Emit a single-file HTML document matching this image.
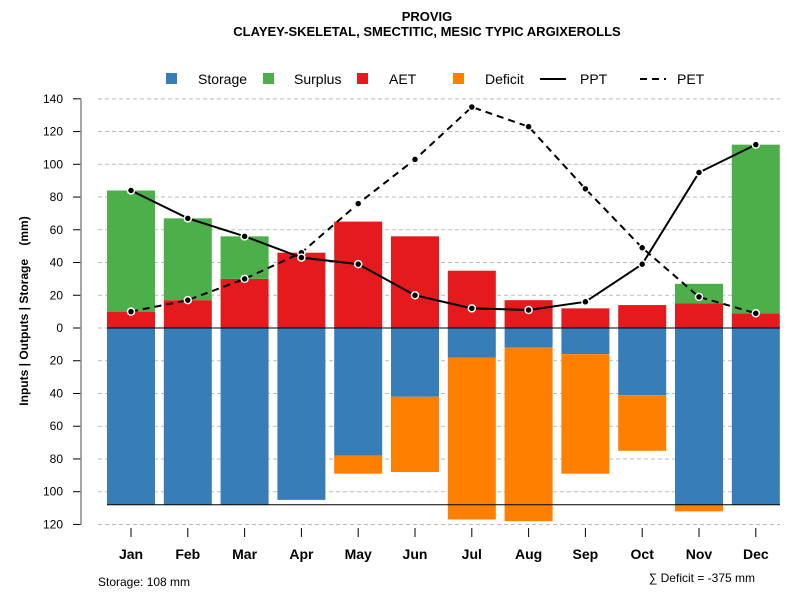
<!DOCTYPE html>
<html><head><meta charset="utf-8">
<style>
body{margin:0;background:#fff;}
svg{display:block;font-family:"Liberation Sans",Arial,sans-serif;}
</style></head>
<body>
<svg id="chart" width="800" height="600" viewBox="0 0 800 600">
<text x="427" y="21" text-anchor="middle" font-size="13" font-weight="bold">PROVIG</text>
<text x="427" y="36" text-anchor="middle" font-size="13" font-weight="bold">CLAYEY-SKELETAL, SMECTITIC, MESIC TYPIC ARGIXEROLLS</text>
<g id="legend" font-size="14">
<g><rect x="166" y="73" width="11" height="11" fill="#377eb8"/><text x="198" y="84">Storage</text></g>
<g><rect x="263" y="73" width="11" height="11" fill="#4daf4a"/><text x="294" y="84">Surplus</text></g>
<g><rect x="357" y="73" width="11" height="11" fill="#e41a1c"/><text x="389" y="84">AET</text></g>
<g><rect x="453" y="73" width="11" height="11" fill="#ff7f00"/><text x="485" y="84">Deficit</text></g>
<g><line x1="540" y1="79" x2="566" y2="79" stroke="#000" stroke-width="2"/><text x="580" y="84">PPT</text></g>
<g><line x1="640" y1="79" x2="666" y2="79" stroke="#000" stroke-width="2" stroke-dasharray="7,5"/><text x="677" y="84">PET</text></g>
</g>
<text transform="translate(28,311) rotate(-90)" text-anchor="middle" font-size="12" font-weight="bold">Inputs | Outputs | Storage&#160;&#160;&#160;&#160;(mm)</text>
<g id="plot"></g>
<text x="98" y="586" font-size="12">Storage: 108 mm</text>
<text x="755" y="582" text-anchor="end" font-size="12">∑ Deficit = -375 mm</text>
</svg>
<script>
const months=["Jan","Feb","Mar","Apr","May","Jun","Jul","Aug","Sep","Oct","Nov","Dec"];
const ppt=[84,67,56,43,39,20,12,11,16,39,95,112];
const pet=[10,17,30,46,76,103,135,123,85,49,19,9];
const aet=[10,17,30,46,65,56,35,17,12,14,15,9];
const surplus=[74,50,26,0,0,0,0,0,0,0,12,103];
const storage=[108,108,108,105,78,42,18,12,16,41,108,108];
const deficit=[0,0,0,0,11,46,99,106,73,34,4,0];
const yTicks=[140,120,100,80,60,40,20,0,20,40,60,80,100,120];
const soilStorage=108;

const NS="http://www.w3.org/2000/svg";
const g=document.getElementById('plot');
const y0=328, k=1.637;
const yUp=v=>y0-v*k, yDown=v=>y0+v*k;
const xc=i=>131+i*56.8;
const bw=48;
function el(t,a){const e=document.createElementNS(NS,t);for(const n in a)e.setAttribute(n,a[n]);g.appendChild(e);return e;}
yTicks.forEach((v,i)=>{
  const y=i<7?yUp(v):yDown(v);
  const gl=el('line',{x1:98,x2:780,y1:y,y2:y,stroke:'#bbb','stroke-dasharray':'4,3'});
  
  
  el('line',{x1:73,x2:81,y1:y,y2:y,stroke:'#000'});
  const t=el('text',{x:63,y:y+4,'text-anchor':'end','font-size':12});
  t.textContent=v;
  
  
});
el('line',{x1:81,x2:81,y1:yUp(140),y2:yDown(120),stroke:'#888','stroke-width':1.5});
months.forEach((m,i)=>{
  const x=xc(i)-bw/2;
  let r=el('rect',{x:x,y:yUp(aet[i]),width:bw,height:aet[i]*k,fill:'#e41a1c'});
  
  
  if(surplus[i]>0){
    r=el('rect',{x:x,y:yUp(aet[i]+surplus[i]),width:bw,height:surplus[i]*k,fill:'#4daf4a'});
    
    
  }
  r=el('rect',{x:x,y:y0,width:bw,height:storage[i]*k,fill:'#377eb8'});
  
  
  if(deficit[i]>0){
    r=el('rect',{x:x,y:yDown(storage[i]),width:bw,height:deficit[i]*k,fill:'#ff7f00'});
    
    
  }
  el('line',{x1:xc(i),x2:xc(i),y1:528,y2:537,stroke:'#000'});
  const t=el('text',{x:xc(i),y:559,'text-anchor':'middle','font-size':14,'font-weight':'bold'});
  t.textContent=m;
  
  
});
el('line',{x1:107,x2:780,y1:y0,y2:y0,stroke:'#000'});
el('line',{x1:107,x2:780,y1:yDown(soilStorage),y2:yDown(soilStorage),stroke:'#000'});
function series(arr,name,dash){
  const p=el('polyline',{points:arr.map((v,i)=>xc(i)+','+yUp(v)).join(' '),fill:'none',stroke:'#000','stroke-width':2,'stroke-dasharray':dash||'none'});
  
  
  arr.forEach((v,i)=>{
    const c=el('circle',{cx:xc(i),cy:yUp(v),r:3.5,fill:'#000',stroke:'#fff','stroke-width':1.5});
    
    
  });
}
series(pet,'pet','7,5');
series(ppt,'ppt');
</script>
</body></html>
